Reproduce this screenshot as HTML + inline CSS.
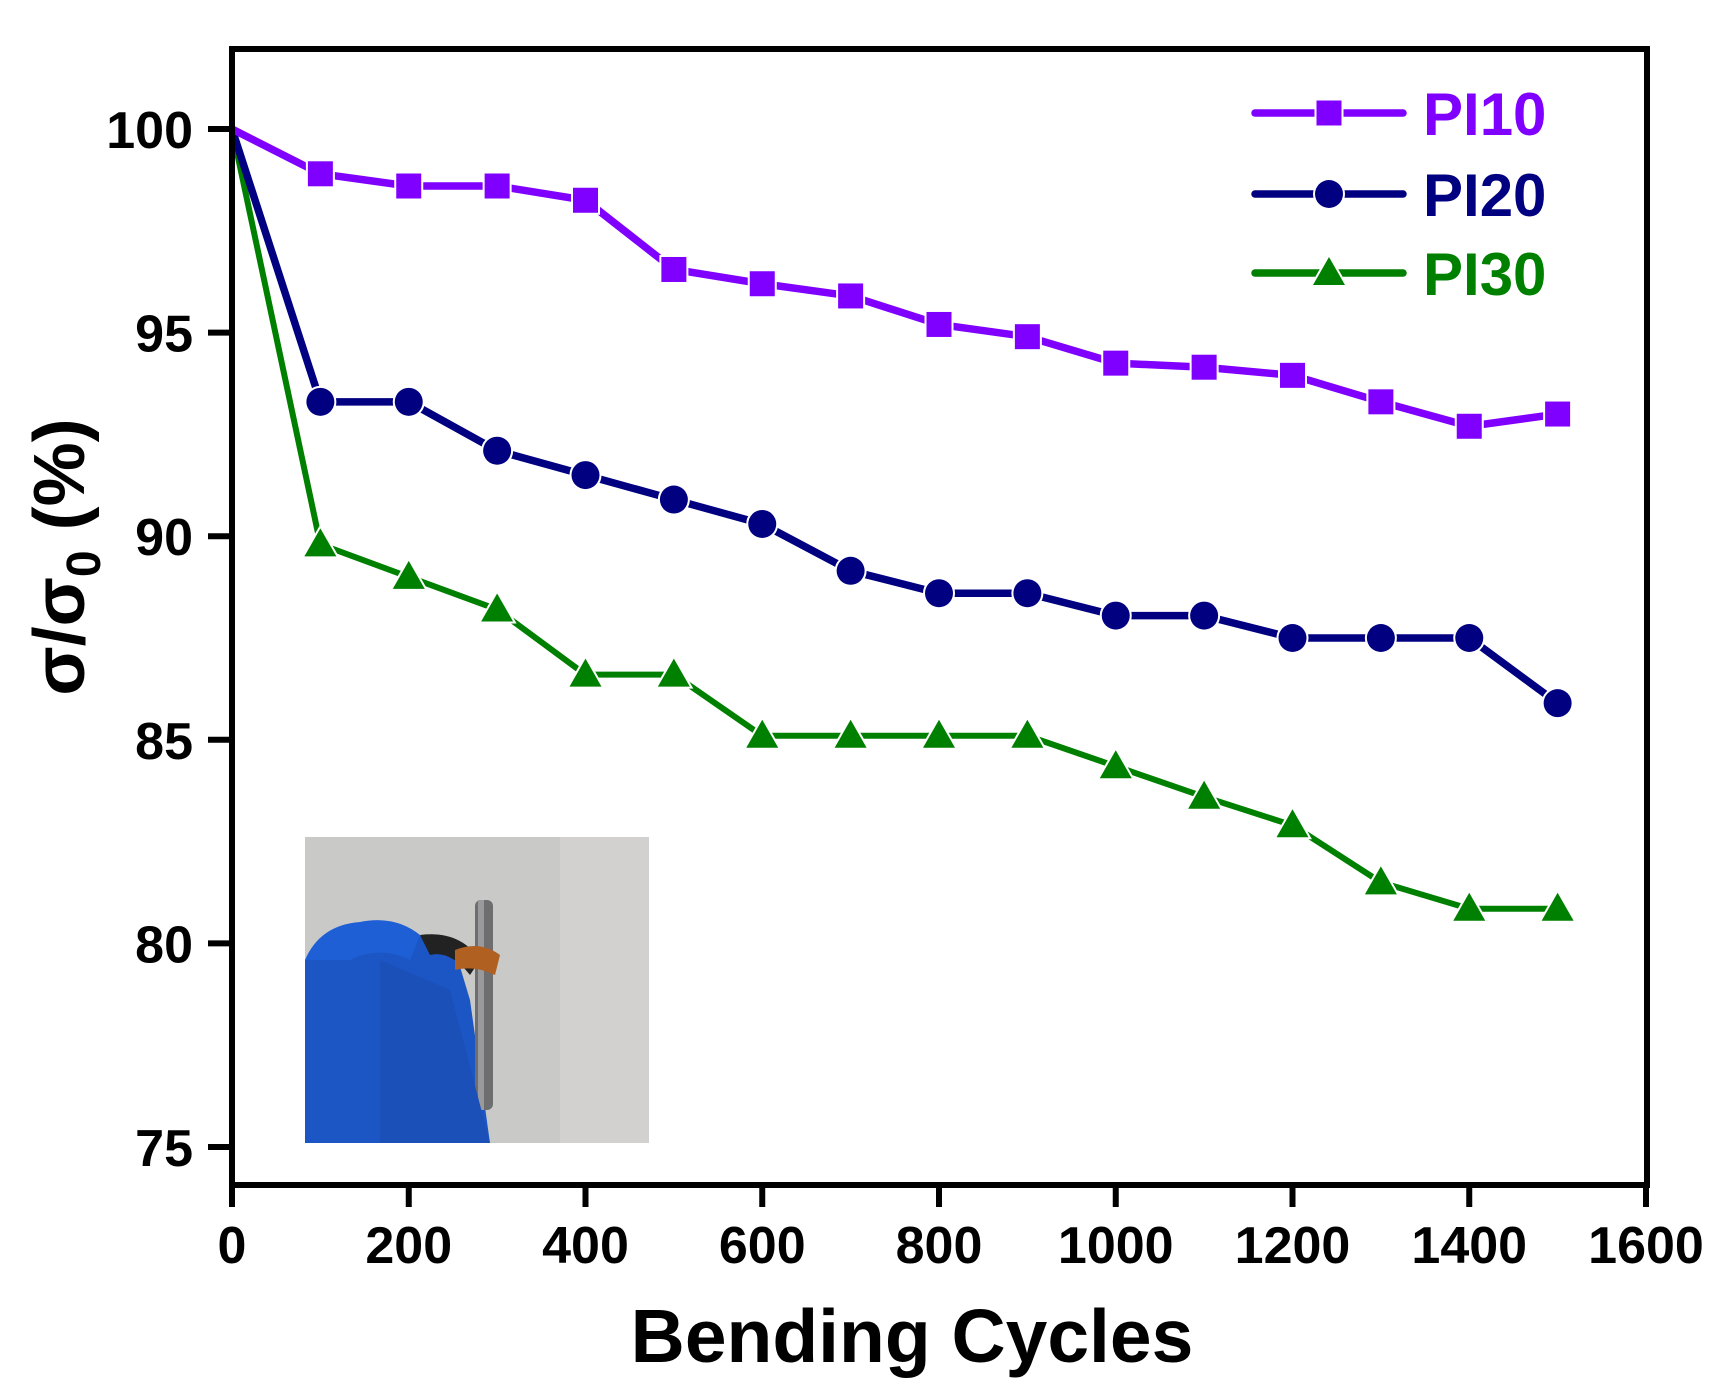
<!DOCTYPE html>
<html><head><meta charset="utf-8"><style>
html,body{margin:0;padding:0;background:#fff;}
svg text{font-family:"Liberation Sans",Arial,sans-serif;font-weight:bold;}
</style></head><body>
<svg id="s" width="1724" height="1390" viewBox="0 0 1724 1390" xmlns="http://www.w3.org/2000/svg">
<rect width="1724" height="1390" fill="#fff"/>
<g>
<rect x="305" y="837" width="344" height="306" fill="#c9c9c7"/>
<rect x="560" y="837" width="89" height="306" fill="#d2d1cf"/>
<path d="M305 960 Q330 930 370 930 Q400 925 430 940 L455 950 L470 1000 L490 1143 L305 1143 Z" fill="#1b56c4"/>
<path d="M305 960 Q320 925 360 922 Q395 915 420 935 L410 960 Q380 945 350 960 Z" fill="#1e5fd6"/>
<path d="M420 935 Q460 930 480 960 L470 975 Q450 950 430 955 Z" fill="#222"/>
<rect x="475" y="900" width="18" height="210" rx="6" fill="#6e6e70"/>
<rect x="478" y="900" width="6" height="210" fill="#9a9a9c"/>
<path d="M455 950 Q480 940 500 955 L495 975 Q475 965 455 970 Z" fill="#b06020"/>
<path d="M380 960 L450 990 L490 1143 L380 1143 Z" fill="#1a50b8"/>
</g>
<g id="plot"></g>
<rect x="232" y="49" width="1415" height="1136" fill="none" stroke="#000" stroke-width="6"/>
<g id="ax"></g>
<text x="912" y="1362" font-size="75" text-anchor="middle">Bending Cycles</text>
<text transform="translate(84,557) rotate(-90)" font-size="72" text-anchor="middle">σ/σ<tspan font-size="48" dy="16">0</tspan><tspan dy="-16"> (%)</tspan></text>
<g id="leg"></g>
</svg>
<script>
const NS="http://www.w3.org/2000/svg";
function el(p,t,a,txt){const e=document.createElementNS(NS,t);for(const k in a)e.setAttribute(k,a[k]);if(txt!==undefined)e.textContent=txt;p.appendChild(e);return e;}
const X=v=>232+v*0.88375, Y=v=>129+(100-v)*40.72;
const ax=document.getElementById('ax'),plot=document.getElementById('plot'),leg=document.getElementById('leg');
for(let v=0;v<=1600;v+=200){el(ax,'line',{x1:X(v),x2:X(v),y1:1185,y2:1207,stroke:'#000','stroke-width':6});
el(ax,'text',{x:X(v),y:1263,'font-size':52,'text-anchor':'middle'},v);}
for(let v=75;v<=100;v+=5){el(ax,'line',{x1:208,x2:232,y1:Y(v),y2:Y(v),stroke:'#000','stroke-width':6});
el(ax,'text',{x:193,y:Y(v)+19,'font-size':52,'text-anchor':'end'},v);}
const d={
PI10:[100,98.9,98.6,98.6,98.25,96.55,96.2,95.9,95.2,94.9,94.25,94.15,93.95,93.3,92.7,93.0],
PI20:[100,93.3,93.3,92.1,91.5,90.9,90.3,89.15,88.6,88.6,88.05,88.05,87.5,87.5,87.5,85.9],
PI30:[100,89.8,89.0,88.2,86.6,86.6,85.1,85.1,85.1,85.1,84.35,83.6,82.9,81.5,80.85,80.85]};
const col={PI10:'#8000ff',PI20:'#000080',PI30:'#008000'};
function mk(g,k,x,y){const a={fill:col[k],stroke:'#fff','stroke-width':4,'paint-order':'stroke'};
if(k=='PI10')el(g,'rect',Object.assign({x:x-12.5,y:y-12.5,width:25,height:25},a));
else if(k=='PI20')el(g,'circle',Object.assign({cx:x,cy:y,r:14},a));
else el(g,'polygon',Object.assign({points:`${x},${y-16} ${x-16},${y+12} ${x+16},${y+12}`},a));}
['PI30','PI20','PI10'].forEach(k=>{
 const pts=d[k].map((v,i)=>[X(i*100),Y(v)]);
 el(plot,'polyline',{points:pts.map(p=>p.join(',')).join(' '),fill:'none',stroke:col[k],'stroke-width':k=='PI30'?6:7.5,'stroke-linejoin':'round'});
 pts.forEach((p,i)=>{if(i>0)mk(plot,k,p[0],p[1]);});
});
[['PI10',113],['PI20',194],['PI30',273]].forEach(([k,y])=>{
 el(leg,'line',{x1:1255,x2:1403,y1:y,y2:y,stroke:col[k],'stroke-width':7.5,'stroke-linecap':'round'});
 mk(leg,k,1329,y);
 el(leg,'text',{x:1423,y:y+22,'font-size':60,fill:col[k]},k);
});
</script>
</body></html>
